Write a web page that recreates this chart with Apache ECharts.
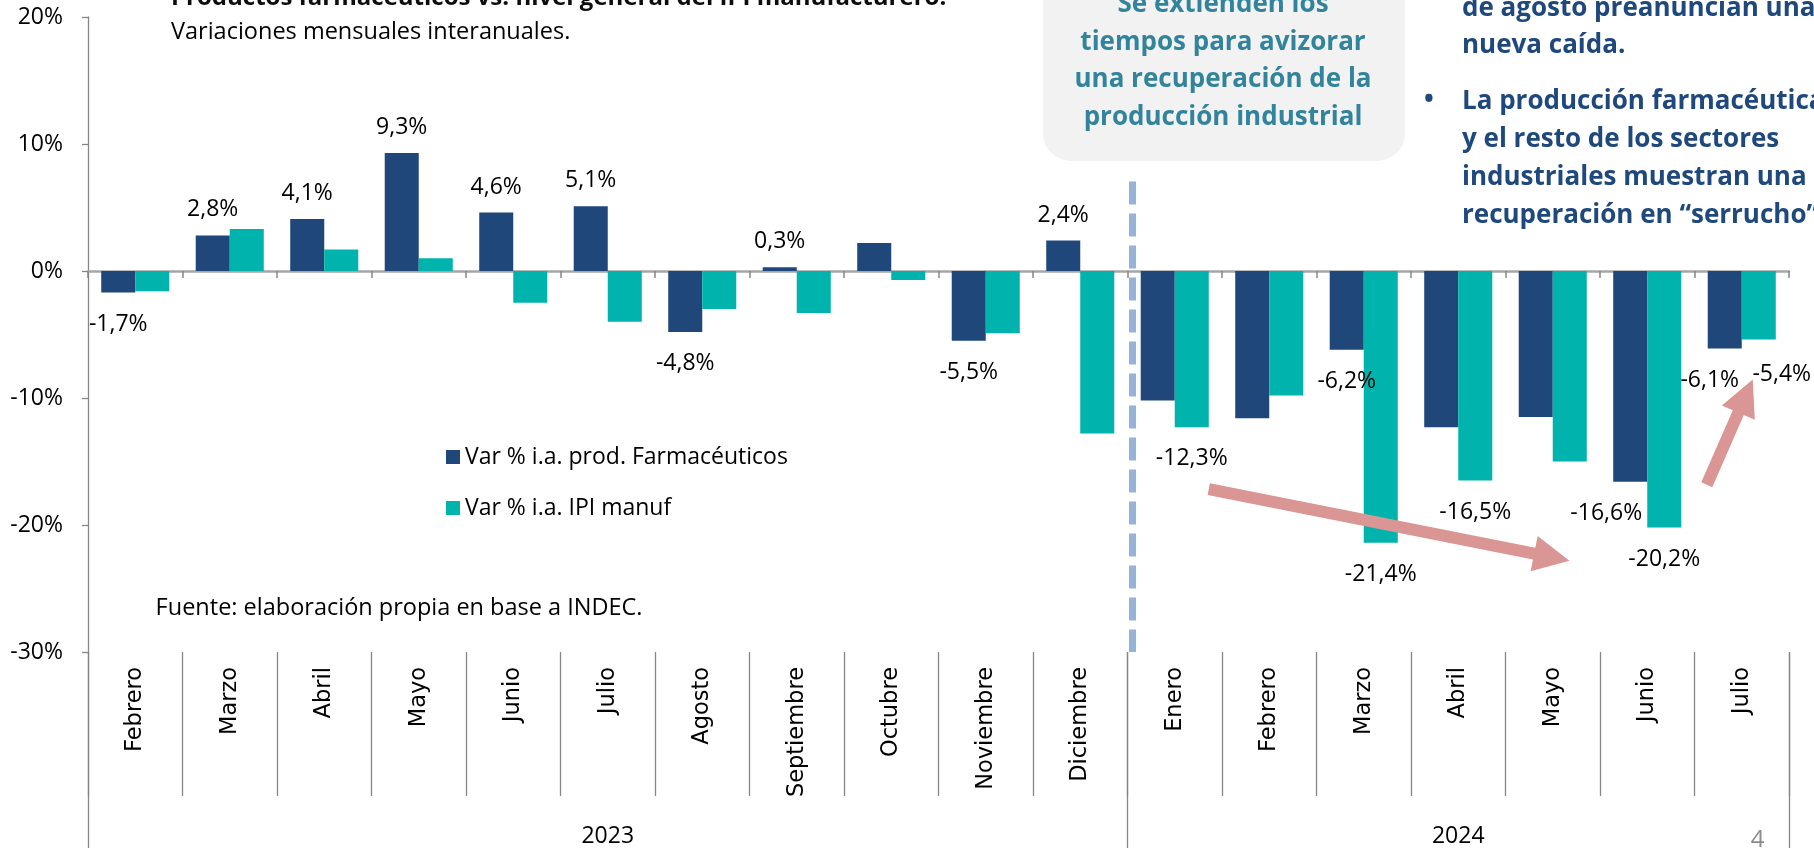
<!DOCTYPE html>
<html><head><meta charset="utf-8">
<script src="https://cdn.jsdelivr.net/npm/echarts@6/dist/echarts.min.js"></script>
<style>html,body{margin:0;padding:0;background:#fff;overflow:hidden}#c{width:1814px;height:848px}</style>
</head><body><div id="c"></div>
<script>
// ---------- data ----------
const months = ['Febrero','Marzo','Abril','Mayo','Junio','Julio','Agosto','Septiembre','Octubre','Noviembre','Diciembre','Enero','Febrero','Marzo','Abril','Mayo','Junio','Julio'];
const yearNames = ['2023', '2024'];
const yearFirstIdx = [0, 11];
const seriesNames = ['Var % i.a. prod. Farmacéuticos', 'Var % i.a. IPI manuf'];
const farma = [-1.7, 2.8, 4.1, 9.3, 4.6, 5.1, -4.8, 0.3, 2.2, -5.5, 2.4, -10.2, -11.6, -6.2, -12.3, -11.5, -16.6, -6.1];
const ipi   = [-1.6, 3.3, 1.7, 1.0, -2.5, -4.0, -3.0, -3.3, -0.7, -4.9, -12.8, -12.3, -9.8, -21.4, -16.5, -15.0, -20.2, -5.4];
const farmaLabeled = [0,1,2,3,4,5,6,7,9,10,13,16,17];
const ipiLabeled = [11,13,14,16,17];
const yMin = -30, yMax = 20, yStep = 10;
// annotations in axis units: [category position, percent]
const dividerLine = [[11.05, 7.05], [11.05, -30]];
const arrows = [[[11.86, -17.17], [15.49, -22.53]], [[17.13, -16.83], [17.54, -9.85]]];

// ---------- styles ----------
const FONT = '"Open Sans", Lato, sans-serif';
const DARK = '#1F477A', TEAL = '#00B4AD', AXIS = '#868686';
const labelNudge = { farma: {16: [-24, 0], 17: [-15, 0]}, ipi: {17: [23, 3]} };
const fmt = v => v.toFixed(1).replace('.', ',') + '%';

function buildData(vals, labeled, nudge) {
  return vals.map((v, i) => {
    const pos = v >= 0;
    const lab = { show: labeled.includes(i), position: pos ? 'top' : 'bottom', distance: pos ? 14 : 20 };
    if (nudge[i]) lab.offset = nudge[i];
    return { value: v, label: lab };
  });
}

const yearLabelAt = {};
yearFirstIdx.forEach((s, k) => {
  const e = (k + 1 < yearFirstIdx.length ? yearFirstIdx[k + 1] : months.length) - 1;
  yearLabelAt[(s + e) / 2] = yearNames[k];
});

const chart = echarts.init(document.getElementById('c'), null, {renderer: 'canvas'});
const barLabel = { fontFamily: FONT, fontSize: 23, color: '#000', formatter: p => fmt(p.value) };

chart.setOption({
  animation: false,
  textStyle: { fontFamily: FONT },
  grid: { left: 88, top: 17, width: 1701, height: 635, containLabel: false },
  legend: {
    data: seriesNames, orient: 'vertical', left: 441, top: 440.5,
    itemWidth: 14, itemHeight: 14, itemGap: 28, icon: 'rect',
    textStyle: { fontFamily: FONT, fontSize: 23, color: '#000' }, selectedMode: false
  },
  xAxis: [
    { type: 'category', data: months, position: 'bottom',
      axisLine: { onZero: true, lineStyle: { color: '#A6A6A6', width: 2.5 } },
      axisTick: { show: true, interval: 0, length: 7, lineStyle: { color: AXIS, width: 1.5 } },
      axisLabel: { show: false }, splitLine: { show: false } },
    { type: 'category', data: months, position: 'bottom',
      axisLine: { show: false, onZero: false },
      axisTick: { show: true, interval: 0, length: 144, lineStyle: { color: AXIS, width: 1.3 } },
      axisLabel: { show: true, interval: 0, rotate: 90, margin: 15,
        fontFamily: '"DejaVu Sans", Verdana, sans-serif', fontSize: 22.5, color: '#000' },
      splitLine: { show: false } },
    { type: 'category', data: months, position: 'bottom',
      axisLine: { show: false, onZero: false },
      axisTick: { show: true, interval: (i) => yearFirstIdx.includes(i), length: 196, lineStyle: { color: AXIS, width: 1.3 } },
      axisLabel: { show: true, interval: 0, margin: 184, verticalAlign: 'middle',
        formatter: (v, i) => yearLabelAt[i] || '', fontFamily: FONT, fontSize: 23, color: '#000' },
      splitLine: { show: false } },
    { type: 'value', min: 0, max: months.length, show: false }
  ],
  yAxis: {
    type: 'value', min: yMin, max: yMax, interval: yStep,
    axisLine: { show: true, onZero: false, lineStyle: { color: AXIS, width: 1.3 } },
    axisTick: { show: true, length: 6, lineStyle: { color: AXIS, width: 1.3 } },
    axisLabel: { formatter: '{value}%', margin: 25, fontFamily: FONT, fontSize: 23, color: '#000' },
    splitLine: { show: false }
  },
  series: [
    { name: seriesNames[0], type: 'bar', xAxisIndex: 0, barGap: '0%', barCategoryGap: '28%',
      itemStyle: { color: DARK }, label: barLabel,
      data: buildData(farma, farmaLabeled, labelNudge.farma), emphasis: { disabled: true } },
    { name: seriesNames[1], type: 'bar', xAxisIndex: 0, barGap: '0%', barCategoryGap: '28%',
      itemStyle: { color: TEAL }, label: barLabel,
      data: buildData(ipi, ipiLabeled, labelNudge.ipi), emphasis: { disabled: true } },
    { type: 'line', xAxisIndex: 3, data: [], silent: true,
      markLine: { silent: true, symbol: ['none', 'none'], label: { show: false },
        lineStyle: { color: '#95B3D7', width: 7, type: [23, 9], cap: 'butt' },
        emphasis: { disabled: true },
        data: [[{ coord: dividerLine[0] }, { coord: dividerLine[1] }]] } },
    { type: 'line', xAxisIndex: 3, data: [], silent: true, z: 5,
      markLine: { silent: true, symbol: ['none', 'triangle'], symbolSize: 36, label: { show: false },
        lineStyle: { color: '#D99694', width: 12, type: 'solid', opacity: 1 },
        itemStyle: { color: '#D99694' },
        emphasis: { disabled: true },
        data: arrows.map(a => [{ coord: a[0] }, { coord: a[1] }]) } }
  ],
  graphic: [
    { type: 'text', x: 171, y: -1.8, style: { text: 'Productos farmacéuticos vs. nivel general del IPI manufacturero.',
      font: 'bold 24px ' + FONT, fill: '#0D0D0D', verticalAlign: 'middle' } },
    { type: 'text', x: 171, y: 32.6, style: { text: 'Variaciones mensuales interanuales.',
      font: '23.5px ' + FONT, fill: '#000', verticalAlign: 'middle' } },
    { type: 'rect', shape: { x: 1043, y: -40, width: 362, height: 201, r: 28 }, style: { fill: '#F2F2F2' }, z: 1 },
    { type: 'text', x: 1223, y: -14.6, z: 2, style: {
      text: 'Se extienden los\ntiempos para avizorar\nuna recuperación de la\nproducción industrial',
      font: 'bold 26px ' + FONT, fill: '#31849B', align: 'center', verticalAlign: 'top', lineHeight: 37.8 } },
    { type: 'text', x: 1462, y: -10, style: { text: 'de agosto preanuncian una\nnueva caída.',
      font: 'bold 26px ' + FONT, fill: '#1F497D', verticalAlign: 'top', lineHeight: 37 } },
    { type: 'text', x: 1429, y: 101, style: { text: '•', font: 'bold 26px ' + FONT, fill: '#1F497D', align: 'center', verticalAlign: 'middle' } },
    { type: 'text', x: 1462, y: 82.5, style: { text: 'La producción farmacéutica\ny el resto de los sectores\nindustriales muestran una\nrecuperación en “serrucho”',
      font: 'bold 26px ' + FONT, fill: '#1F497D', verticalAlign: 'top', lineHeight: 38 } },
    { type: 'text', x: 155.6, y: 608.3, style: { text: 'Fuente: elaboración propia en base a INDEC.',
      font: '23.5px ' + FONT, fill: '#000', verticalAlign: 'middle' } },
    { type: 'text', x: 1757.5, y: 840, style: { text: '4', font: '24px ' + FONT, fill: '#8C8C8C', align: 'center', verticalAlign: 'middle' } }
  ]
});
</script>
</body></html>
